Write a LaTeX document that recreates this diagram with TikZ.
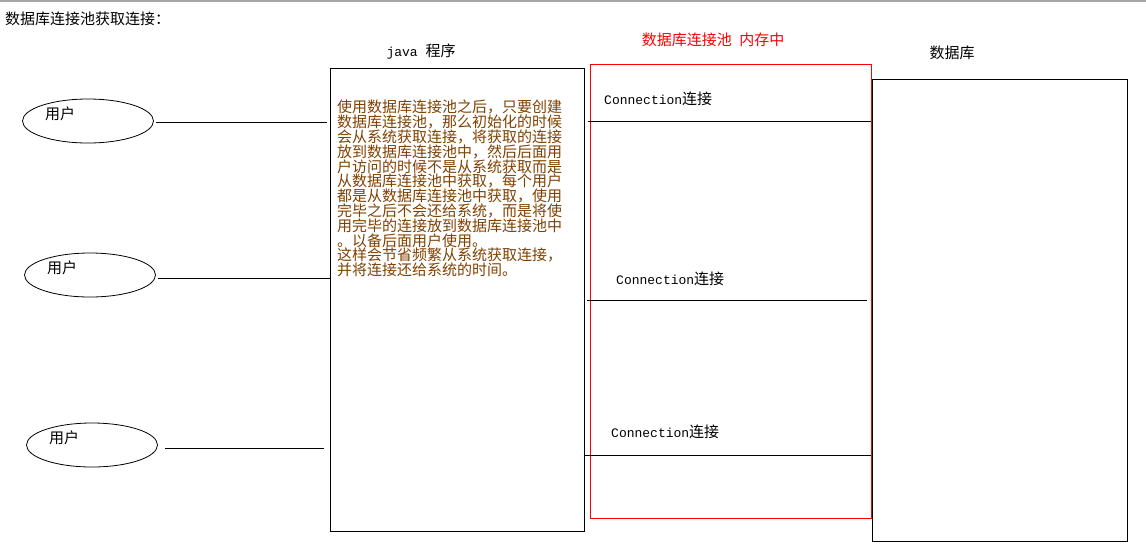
\documentclass[tikz,border=0pt]{standalone}
\usepackage{fontspec}
\setmainfont{Noto Sans CJK SC}
\newfontfamily\latinmono{Liberation Mono}
\usetikzlibrary{calc,positioning,shapes.geometric}
\definecolor{notebrown}{RGB}{128,64,0}
\tikzset{
    box/.style={draw, line width=1pt, rectangle, anchor=north west, inner sep=0pt},   % plain boxes
    user/.style={draw, ellipse, line width=0.8pt, minimum width=131pt, minimum height=44pt, inner sep=0pt},
    cn/.style={font=\fontsize{15}{15}\selectfont, inner sep=0pt},
    wire/.style={line width=1pt}
}
\newcommand{\conntext}{{\latinmono\fontsize{13}{13}\selectfont Connection}连接}

\begin{document}
\begin{tikzpicture}[x=1pt,y=-1pt]
                    \useasboundingbox (0,0) rectangle (1146,550);
                    \draw[gray!70, line width=3pt] (0,0) -- (1146,0);
                    \node[cn, anchor=west] (title) at (5,19) {数据库连接池获取连接：};
                    % the three boxes
                    \node[box, minimum width=254pt, minimum height=463pt] (java) at (329.5,67.5) {};
                    \node[box, draw=red, minimum width=281pt, minimum height=454pt] (pool) at (589.5,63.5) {};
                    \node[box, minimum width=255pt, minimum height=462pt] (db) at (871.5,78.5) {};
                    \node[cn] (javalabel) at (421,52) {{\latinmono\fontsize{13}{13}\selectfont java }程序};
                    \node[cn, text=red] (poollabel) at (713,40) {数据库连接池\hspace{0.5em}内存中};
                    \node[cn] (dblabel) at (952,53) {数据库};
                    \node[cn, notebrown, anchor=north west, align=left, font=\fontsize{15}{14.8}\selectfont] (note) at (337,100)
                    {使用数据库连接池之后，只要创建\\
                     数据库连接池，那么初始化的时候\\
                     会从系统获取连接，将获取的连接\\
                     放到数据库连接池中，然后后面用\\
                     户访问的时候不是从系统获取而是\\
                     从数据库连接池中获取，每个用户\\
                     都是从数据库连接池中获取，使用\\
                     完毕之后不会还给系统，而是将使\\
                     用完毕的连接放到数据库连接池中\\
                     。以备后面用户使用。\\
                     这样会节省频繁从系统获取连接，\\
                     并将连接还给系统的时间。};
                    % connections in the pool
                    \foreach \i/\cx/\cy/\la/\lb/\ly in {1/604/99/588/871/121.5,2/616/279/587/867/300.5,3/611/432/584/871/455.5}
                    {
                        \node[cn, anchor=west] (conn\i) at (\cx,\cy) {\conntext};
                        \draw[wire] (\la,\ly) -- (\lb,\ly);
                    }
                    % users
                    \foreach \i/\ux/\uy/\lx/\ly/\gap in {1/88/121/327/122.5/2,2/90/275/330/278.5/2,3/92/445/324/448.5/7}
                    {
                        \node[user] (u\i) at (\ux,\uy) {};
                        \node[cn] (ul\i) at ($(u\i)+(-28,-7)$) {用户};
                        \coordinate (e\i) at (\lx,\ly);
                        \draw[wire, shorten <=\gap pt] (u\i.east |- e\i) -- (e\i);
                    }
                \end{tikzpicture}
\end{document}
